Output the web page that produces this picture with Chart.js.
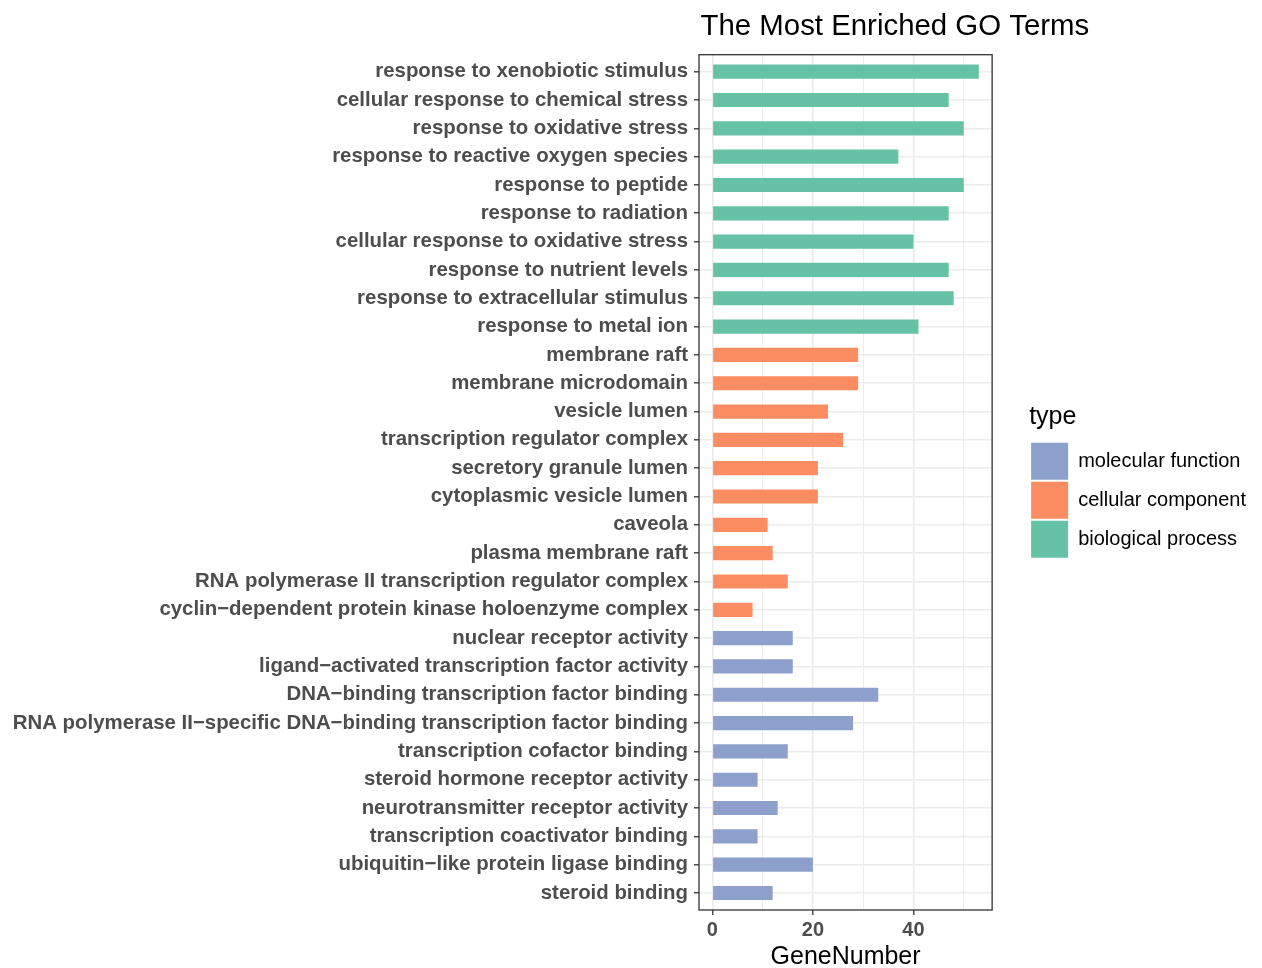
<!DOCTYPE html>
<html>
<head>
<meta charset="utf-8">
<title>The Most Enriched GO Terms</title>
<script src="https://cdn.jsdelivr.net/npm/chart.js@4.4.1/dist/chart.umd.min.js"></script>
<style>
	html, body { margin: 0; padding: 0; background: #ffffff; }
	#goTerms { display: block; }
</style>
</head>
<body>
<canvas id="goTerms" width="1262" height="968"></canvas>
<script>
// enriched terms per ontology, listed top to bottom as drawn
const bpTerms = [
	"response to xenobiotic stimulus",
	"cellular response to chemical stress",
	"response to oxidative stress",
	"response to reactive oxygen species",
	"response to peptide",
	"response to radiation",
	"cellular response to oxidative stress",
	"response to nutrient levels",
	"response to extracellular stimulus",
	"response to metal ion"
]
const bpGenes = [53, 47, 50, 37, 50, 47, 40, 47, 48, 41]

const ccTerms = [
	"membrane raft",
	"membrane microdomain",
	"vesicle lumen",
	"transcription regulator complex",
	"secretory granule lumen",
	"cytoplasmic vesicle lumen",
	"caveola",
	"plasma membrane raft",
	"RNA polymerase II transcription regulator complex",
	"cyclin\u2212dependent protein kinase holoenzyme complex"
]
const ccGenes = [29, 29, 23, 26, 21, 21, 11, 12, 15, 8]

const mfTerms = [
	"nuclear receptor activity",
	"ligand\u2212activated transcription factor activity",
	"DNA\u2212binding transcription factor binding",
	"RNA polymerase II\u2212specific DNA\u2212binding transcription factor binding",
	"transcription cofactor binding",
	"steroid hormone receptor activity",
	"neurotransmitter receptor activity",
	"transcription coactivator binding",
	"ubiquitin\u2212like protein ligase binding",
	"steroid binding"
]
const mfGenes = [16, 16, 33, 28, 15, 9, 13, 9, 20, 12]

// legend order and Set2 colours
const types = ["molecular function", "cellular component", "biological process"]
const typeColors = ["#8da0cb", "#fc8d62", "#66c2a5"]

const xTicks = [0, 10, 20, 30, 40, 50]
const xLabelled = [0, 20, 40]

const chartTitle = "The Most Enriched GO Terms"

Chart.defaults.font.family = "'Liberation Sans', Arial, Helvetica, sans-serif"

// frame round the plot panel, plus the title flush with the panel's left edge
const panelFrame = {
	id: 'panelFrame',
	afterDraw(chart) {
		const { ctx, chartArea } = chart
		ctx.save()
		ctx.strokeStyle = '#333333'
		ctx.lineWidth = 1.3
		ctx.strokeRect(chartArea.left, chartArea.top, chartArea.right - chartArea.left, chartArea.bottom - chartArea.top)

		ctx.fillStyle = '#000000'
		ctx.font = "29.4px 'Liberation Sans', Arial, Helvetica, sans-serif"
		ctx.textAlign = 'left'
		ctx.textBaseline = 'alphabetic'
		ctx.fillText(chartTitle, chartArea.left + 1.5, 35)
		ctx.restore()
	}
}

const goTerms = () => {
	const terms = bpTerms.concat(ccTerms, mfTerms)
	const toPoints = (values, start) => values.map((v, i) => ({ x: v, y: start + i }))

	const blocks = [
		toPoints(mfGenes, bpTerms.length + ccTerms.length),
		toPoints(ccGenes, bpTerms.length),
		toPoints(bpGenes, 0)
	]

	const maxGenes = Math.max(...bpGenes, ...ccGenes, ...mfGenes)
	const xPad = maxGenes * 0.05

	const data = {
		datasets: types.map((t, i) => ({
			label: t,
			data: blocks[i],
			backgroundColor: typeColors[i],
			borderWidth: 0,
			grouped: false,
			categoryPercentage: 1,
			barPercentage: 0.5
		}))
	}

	const ctx = document.getElementById('goTerms').getContext('2d')

	const chart = new Chart(ctx, {
		type: 'bar',
		data: data,
		plugins: [panelFrame],
		options: {
			indexAxis: 'y',
			responsive: false,
			animation: false,
			devicePixelRatio: 1,
			layout: { padding: { left: 0, right: 6, top: 54.7, bottom: 0 } },
			scales: {
				x: {
					type: 'linear',
					bounds: 'data',
					min: -xPad,
					max: maxGenes + xPad,
					afterBuildTicks: (s) => { s.ticks = xTicks.map(v => ({ value: v })) },
					afterFit: (s) => { s.height = 58 },
					grid: {
						color: '#ebebeb',
						lineWidth: (c) => xLabelled.includes(c.tick.value) ? 1.6 : 0.9,
						tickLength: 5,
						tickWidth: 1.3,
						tickColor: (c) => xLabelled.includes(c.tick.value) ? '#333333' : 'rgba(0,0,0,0)'
					},
					border: { display: false },
					ticks: {
						autoSkip: false,
						maxRotation: 0,
						padding: 3.5,
						color: '#4d4d4d',
						font: { size: 20, weight: 'bold' },
						callback: (v) => xLabelled.includes(v) ? String(v) : ''
					},
					title: {
						display: true,
						text: 'GeneNumber',
						color: '#000000',
						padding: 0,
						font: { size: 25, lineHeight: 0.9 }
					}
				},
				y: {
					type: 'linear',
					reverse: true,
					offset: false,
					bounds: 'data',
					min: -0.6,
					max: terms.length - 1 + 0.6,
					afterBuildTicks: (s) => { s.ticks = terms.map((t, i) => ({ value: i })) },
					afterFit: (s) => { s.width = 699 },
					grid: {
						offset: false,
						color: '#ebebeb',
						lineWidth: 1.6,
						tickLength: 5,
						tickWidth: 1.3,
						tickColor: '#333333'
					},
					border: { display: false },
					ticks: {
						autoSkip: false,
						padding: 6,
						color: '#4d4d4d',
						font: { size: 20.4, weight: 'bold' },
						callback: (v) => terms[v]
					}
				},
				gap: {
					axis: 'y',
					type: 'linear',
					position: 'right',
					display: true,
					grid: { display: false },
					border: { display: false },
					ticks: { display: false },
					afterFit: (s) => { s.width = 37 }
				}
			},
			plugins: {
				title: { display: false },
				legend: {
					position: 'right',
					fullSize: false,
					align: 'center',
					maxWidth: 320,
					title: {
						display: true,
						text: 'type',
						position: 'start',
						color: '#000000',
						font: { size: 25 },
						padding: { top: 0, bottom: 5.7 }
					},
					labels: {
						boxWidth: 37,
						boxHeight: 37,
						padding: 2,
						color: '#000000',
						font: { size: 20 }
					}
				},
				tooltip: { enabled: false }
			}
		}
	})
}

window.addEventListener('load', goTerms)
</script>
</body>
</html>
